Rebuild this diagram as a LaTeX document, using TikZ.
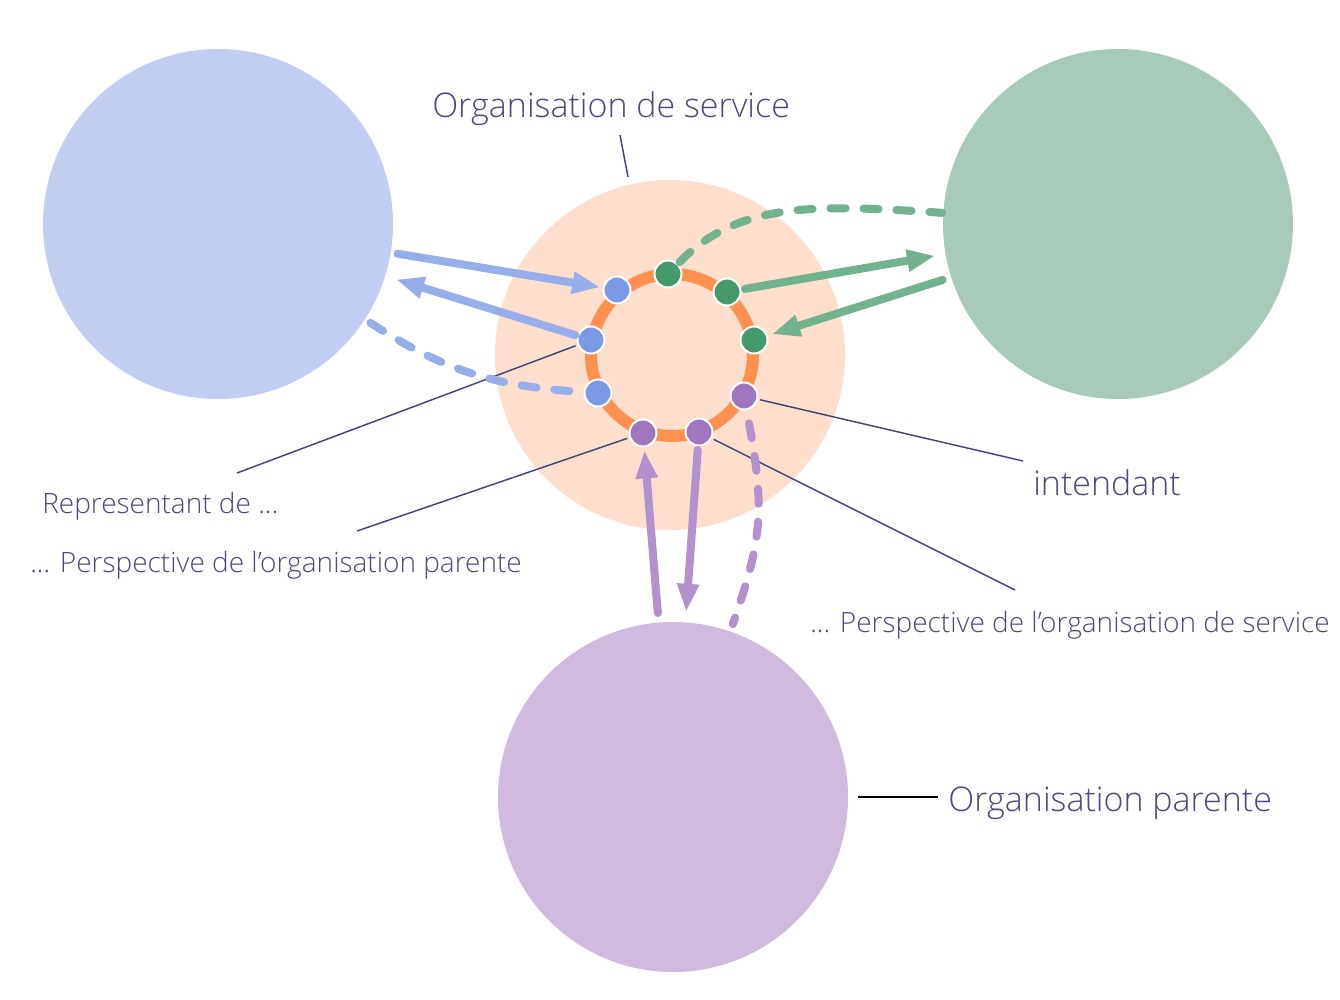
\documentclass[tikz,border=0pt]{standalone}
\usepackage{fontspec}
\IfFontExistsTF{Open Sans Light}{\setmainfont{Open Sans Light}}{\setmainfont{Open Sans}}
\usetikzlibrary{arrows.meta}

\definecolor{bluefill}{HTML}{C1CEF2}
\definecolor{bluedot}{HTML}{7B9AE6}
\definecolor{bluearr}{HTML}{98AEEA}
\definecolor{greenfill}{HTML}{A8CAB9}
\definecolor{greendot}{HTML}{449A6B}
\definecolor{greenarr}{HTML}{72B28F}
\definecolor{purplefill}{HTML}{D0BADD}
\definecolor{purpledot}{HTML}{A076BF}
\definecolor{purplearr}{HTML}{B291CE}
\definecolor{peach}{HTML}{FEDECD}
\definecolor{ringorange}{HTML}{FF9150}
\definecolor{labeltext}{HTML}{4B4A7E}
\definecolor{labelline}{HTML}{46457A}

\begin{document}
\begin{tikzpicture}[x=0.75pt,y=-0.75pt,
  big/.style={circle, minimum size=262.5pt, inner sep=0pt, outer sep=0pt},
  ringdot/.style={circle, minimum size=20.25pt, inner sep=0pt, outer sep=0.75pt,
    draw=white, line width=1.5pt},
  flow/.style={line width=6pt, line cap=round,
    -{Triangle[length=21pt,width=15.5pt]}},
  loose/.style={line width=6pt, line cap=round,
    dash pattern=on 11.25pt off 13.5pt},
  lbl/.style={draw=labelline, line width=1.1pt},
  bigtext/.style={inner sep=0pt, anchor=base west, text=labeltext,
    font=\fontsize{25.5}{30}\selectfont},
  smalltext/.style={inner sep=0pt, anchor=base west, text=labeltext,
    font=\fontsize{21}{25}\selectfont}]

\useasboundingbox[fill=white] (0,0) rectangle (1340,1000);

% the three organisations around the service
\node[big, fill=bluefill]   (bluec)   at (218,224) {};
\node[big, fill=greenfill]  (greenc)  at (1118,224) {};
\node[big, fill=purplefill] (purplec) at (673,797) {};

% service organisation and its boundary ring
\node[big, fill=peach] (peachc) at (670,355) {};
\draw[ringorange, line width=9pt] (672,355) circle[radius=60.75pt];

% contact points on the ring
\node[ringdot, fill=bluedot]   (b1) at (617,290) {};
\node[ringdot, fill=bluedot]   (b2) at (591,340) {};
\node[ringdot, fill=bluedot]   (b3) at (598,393) {};
\node[ringdot, fill=greendot]  (g1) at (668,274) {};
\node[ringdot, fill=greendot]  (g2) at (727,292) {};
\node[ringdot, fill=greendot]  (g3) at (754,340) {};
\node[ringdot, fill=purpledot] (p1) at (744,396) {};
\node[ringdot, fill=purpledot] (p2) at (699,432) {};
\node[ringdot, fill=purpledot] (p3) at (643,433) {};

% label ends
\coordinate (repl)   at (237,473);
\coordinate (ppar)   at (357,531);
\coordinate (intd)   at (1023,461);
\coordinate (pserv)  at (1015,590);
\coordinate (osTop)  at (620,135);
\coordinate (osBot)  at (628,177);

% leader lines
\draw[lbl, shorten <=1.5pt] (b2) -- (repl);
\draw[lbl, shorten <=1.5pt] (p3) -- (ppar);
\draw[lbl, shorten <=1.5pt] (p1) -- (intd);
\draw[lbl, shorten <=1.5pt] (p2) -- (pserv);
\draw[lbl] (osTop) -- (osBot);

% flows between the organisations and the service
\draw[flow, bluearr, shorten <=5.25pt, shorten >=1.8pt] (bluec) -- (b1);
\draw[flow, bluearr, shorten <=1.4pt, shorten >=8.7pt] (b2) -- (bluec);
\draw[flow, greenarr, shorten <=2.8pt, shorten >=8pt] (g2) -- (greenc);
\draw[flow, greenarr, shorten <=6.75pt, shorten >=3.4pt] (greenc) -- (g3);
\draw[flow, purplearr, shorten <=7.2pt, shorten >=2.2pt] (purplec) -- (p3);
\draw[flow, purplearr, shorten <=2.6pt, shorten >=8pt] (p2) -- (purplec);

% loose links
\draw[loose, bluearr, shorten <=5pt, shorten >=1.5pt]
  (bluec) .. controls (440,368) and (490,386) .. (b3);
\draw[loose, greenarr, shorten <=1.5pt, shorten >=1pt]
  (g1) .. controls (740,200) and (820,205) .. (greenc);
\draw[loose, purplearr, shorten <=10pt, shorten >=6pt]
  (p1) .. controls (765,510) and (762,540) .. (purplec);

% texts
\node[bigtext] (oslab) at (432,117) {Organisation de service};
\node[smalltext] (replab) at (42,513) {Representant de ...};
\node[smalltext] (pparlab) at (30,572) {... Perspective de l’organisation parente};
\node[bigtext] (intlab) at (1033,495) {intendant};
\node[smalltext] (pservlab) at (810,632) {... Perspective de l’organisation de service};
\node[bigtext] (oplab) at (948,811) {Organisation parente};
\draw[black, line width=1.1pt] ([xshift=7.5pt]purplec.east) -- ([xshift=-7.5pt]oplab.west |- purplec.east);

\end{tikzpicture}
\end{document}
